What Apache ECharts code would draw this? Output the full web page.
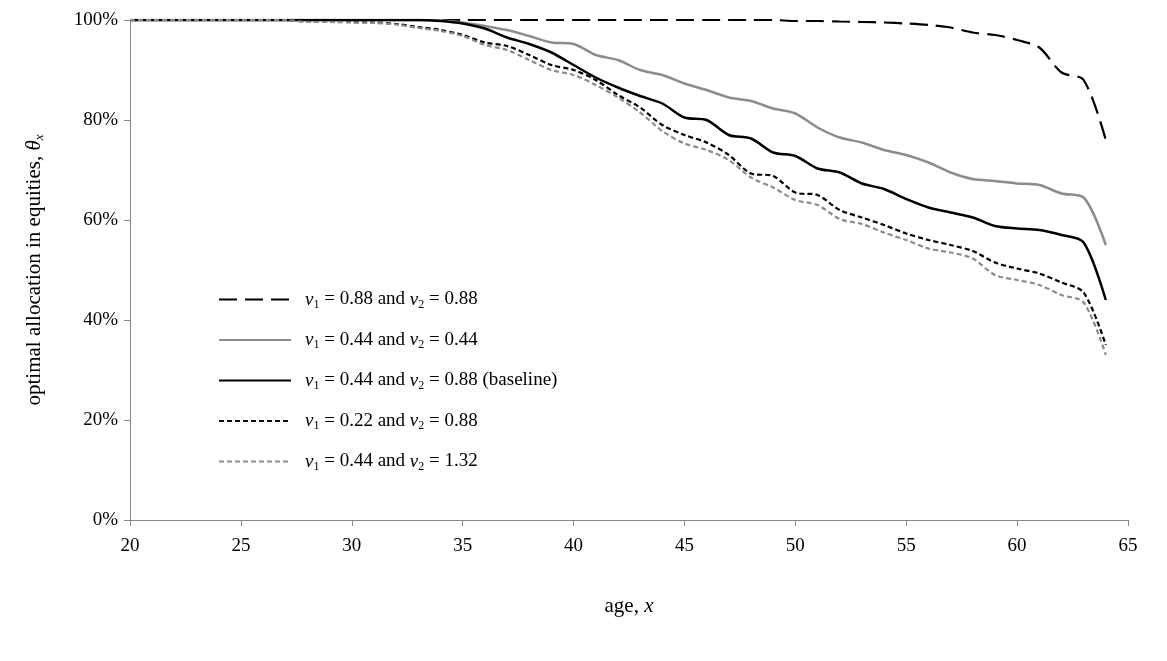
<!DOCTYPE html>
<html>
<head>
<meta charset="utf-8">
<script src="https://cdn.jsdelivr.net/npm/echarts@6/dist/echarts.min.js"></script>
<style>html,body{margin:0;background:#fff}#c{width:1167px;height:661px}</style>
</head>
<body>
<div id="c"></div>
<script>
// 数据
var ages = [];
for (var a = 20; a <= 64; a++) ages.push(a);
var s1 = [100,100,100,100,100,100,100,100,100,100,100,100,100,100,100,100,100,100,100,100,100,100,100,100,100,100,100,100,100,100,
  99.8,99.8,99.7,99.6,99.5,99.3,99,98.5,97.5,97,96,94.5,89.5,88,76];
var s2 = [100,100,100,100,100,100,100,100,100,100,100,100,100,100,99.9,
  99.5,98.8,98,96.8,95.5,95.2,93,92,90,89,87.3,86,84.5,83.8,82.3,81.3,78.5,76.5,75.5,74,73,71.5,69.5,68.2,67.8,67.3,67,65.3,64.5,55];
var s3 = [100,100,100,100,100,100,100,100,100,100,100,100,100,100,99.8,
  99.3,98.3,96.5,95.2,93.5,91,88.5,86.5,84.8,83.3,80.5,80,77,76.3,73.5,72.8,70.3,69.5,67.3,66.2,64.2,62.5,61.5,60.5,58.8,58.3,58,57,55.5,44];
var s4 = [100,100,100,100,100,100,100,100,99.7,99.7,
  99.6,99.5,99.2,98.6,98,97,95.5,94.8,93,91,90,88,85,82.5,79,77,75.5,73,69.3,68.8,65.5,65,62,60.5,59,57.3,56,55,53.8,51.5,50.3,49.3,47.5,45.5,35];
var s5 = [100,100,100,100,100,100,100,100,99.6,99.6,
  99.5,99.4,99.1,98.4,97.8,96.8,95,94,92,90,89,87,84.5,81.5,77.8,75.3,74,72,68.5,66.5,64,63,60.2,59.2,57.5,56,54.3,53.5,52.3,49,48,47,45,43.5,33];
var names = ["a", "b", "c", "d", "e"];
var labels = {
  a: "{i|v}{s|1} = 0.88 and {i|v}{s|2} = 0.88",
  b: "{i|v}{s|1} = 0.44 and {i|v}{s|2} = 0.44",
  c: "{i|v}{s|1} = 0.44 and {i|v}{s|2} = 0.88 (baseline)",
  d: "{i|v}{s|1} = 0.22 and {i|v}{s|2} = 0.88",
  e: "{i|v}{s|1} = 0.44 and {i|v}{s|2} = 1.32"
};

function pts(arr) { return arr.map(function (v, i) { return [ages[i], v]; }); }
function line(name, arr, color, type, width) {
  return {
    name: name, type: "line", data: pts(arr), smooth: 0.3, showSymbol: false, symbol: "none",
    lineStyle: { color: color, type: type, width: width }, itemStyle: { color: color }
  };
}

var font = "Liberation Serif";
var axisColor = "#888";
var chart = echarts.init(document.getElementById("c"));
chart.setOption({
  animation: false,
  textStyle: { fontFamily: font },
  grid: { left: 130, right: 39, top: 20, bottom: 141 },
  legend: {
    orient: "vertical", left: 213, top: 285, itemWidth: 72, itemHeight: 14, itemGap: 20,
    data: names,
    itemStyle: { opacity: 0 },
    formatter: function (n) { return labels[n]; },
    textStyle: {
      fontFamily: font, fontSize: 19, color: "#000", padding: [0, 0, 0, 9],
      rich: {
        i: { fontFamily: font, fontStyle: "italic", fontSize: 19 },
        s: { fontFamily: font, fontSize: 12, padding: [10, 0, 0, 0] }
      }
    }
  },
  xAxis: {
    type: "value", min: 20, max: 65, interval: 5,
    name: "age, {i|x}", nameLocation: "middle", nameGap: 76,
    nameTextStyle: { fontFamily: font, fontSize: 21, color: "#000",
      rich: { i: { fontFamily: font, fontStyle: "italic", fontSize: 21 } } },
    axisLine: { lineStyle: { color: axisColor } },
    axisTick: { show: true, length: 6, lineStyle: { color: axisColor } },
    axisLabel: { fontFamily: font, fontSize: 19, color: "#000", margin: 17 },
    splitLine: { show: false }
  },
  yAxis: {
    type: "value", min: 0, max: 100, interval: 20,
    name: "optimal allocation in equities, {i|θ}{s|x}", nameLocation: "middle", nameGap: 84,
    nameTextStyle: { fontFamily: font, fontSize: 21, color: "#000",
      rich: {
        i: { fontFamily: font, fontStyle: "italic", fontSize: 21 },
        s: { fontFamily: font, fontStyle: "italic", fontSize: 13, padding: [10, 0, 0, 0] }
      } },
    axisLine: { show: true, lineStyle: { color: axisColor } },
    axisTick: { show: true, length: 6, lineStyle: { color: axisColor } },
    axisLabel: { fontFamily: font, fontSize: 19, color: "#000", formatter: "{value}%", margin: 12 },
    splitLine: { show: false }
  },
  series: [
    line("a", s1, "#000", [18, 8], 2.2),
    line("b", s2, "#8c8c8c", "solid", 2.5),
    line("c", s3, "#000", "solid", 2.5),
    line("d", s4, "#000", [5, 3], 2.2),
    line("e", s5, "#8c8c8c", [5, 3], 2.2)
  ]
});
</script>
</body>
</html>
